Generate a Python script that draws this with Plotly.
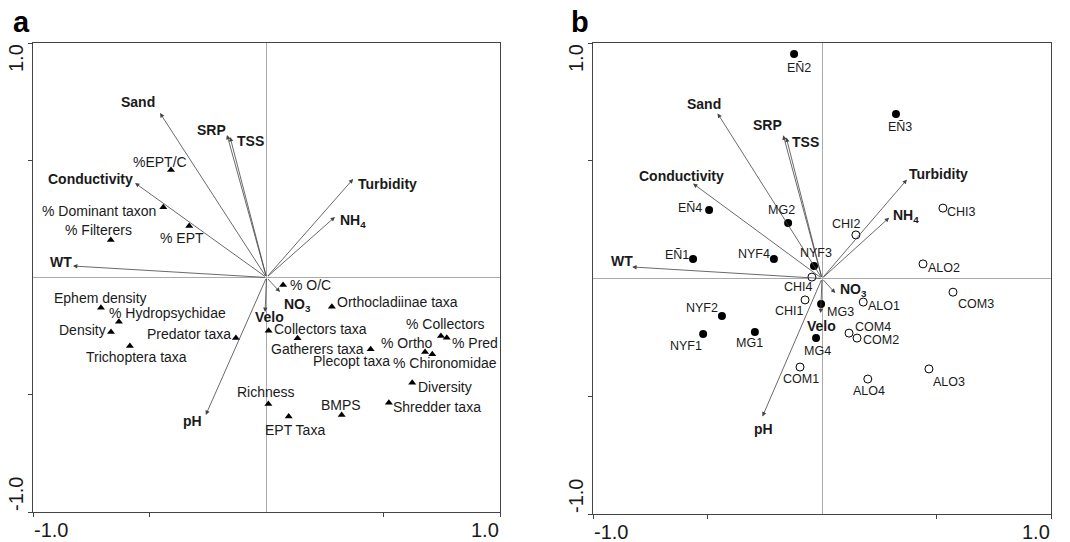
import plotly.graph_objects as go

# ---------------- data ----------------
env_names = ["Sand", "SRP", "TSS", "Conductivity", "WT", "Turbidity",
             "NH<sub>4</sub>", "NO<sub>3</sub>", "Velo", "pH"]
env_x = [-0.456, -0.169, -0.156, -0.563, -0.829, 0.371, 0.293, 0.058, -0.006, -0.260]
env_y = [0.701, 0.608, 0.599, 0.403, 0.049, 0.420, 0.258, -0.062, -0.147, -0.586]

sp_names = ["%EPT/C", "% Dominant taxon", "% EPT", "% Filterers", "% O/C",
            "Ephem density", "% Hydropsychidae", "Density", "Trichoptera taxa",
            "Predator taxa", "Orthocladiinae taxa", "Collectors taxa",
            "Gatherers taxa", "Plecopt taxa", "% Collectors", "% Pred", "% Ortho",
            "% Chironomidae", "Diversity", "Shredder taxa", "BMPS", "Richness",
            "EPT Taxa"]
sp_x = [-0.409, -0.442, -0.331, -0.667, 0.071, -0.709, -0.632, -0.666, -0.585,
        -0.131, 0.280, 0.009, 0.133, 0.446, 0.747, 0.772, 0.679, 0.710, 0.624,
        0.524, 0.322, 0.008, 0.095]
sp_y = [0.458, 0.300, 0.220, 0.160, -0.032, -0.129, -0.189, -0.232, -0.292,
        -0.258, -0.125, -0.227, -0.259, -0.306, -0.249, -0.257, -0.318, -0.327,
        -0.449, -0.534, -0.586, -0.539, -0.593]

site_f_names = ["EÑ2", "EÑ3", "EÑ4", "MG2", "EÑ1", "NYF4", "NYF3", "MG3",
                "NYF2", "NYF1", "MG1", "MG4"]
site_f_x = [-0.122, 0.323, -0.493, -0.148, -0.563, -0.210, -0.035, -0.004,
            -0.437, -0.519, -0.293, -0.026]
site_f_y = [0.953, 0.698, 0.291, 0.236, 0.083, 0.083, 0.053, -0.108,
            -0.159, -0.236, -0.227, -0.253]

site_o_names = ["CHI2", "CHI3", "ALO2", "CHI4", "CHI1", "ALO1", "COM3", "COM4",
                "COM2", "COM1", "ALO4", "ALO3"]
site_o_x = [0.148, 0.528, 0.441, -0.044, -0.074, 0.180, 0.572, 0.118,
            0.153, -0.096, 0.200, 0.467]
site_o_y = [0.185, 0.299, 0.062, 0.006, -0.091, -0.100, -0.058, -0.232,
            -0.253, -0.376, -0.427, -0.384]

tick_vals = [-1.0, 1.0]
tick_text = ["-1.0", "1.0"]

# ---------------- label placement (anchor, dx, dy in screen px) ----------------
env_lab_a = [("right", -5, -11), ("right", -1, -5), ("left", 7, 4),
             ("right", -2, -4), ("right", -1, -4), ("left", 5, 5),
             ("left", 5, 4), ("left", 4, 13), ("left", -10, 5), ("right", -4, 6)]
env_lab_b = [("right", 3, -9), ("right", -1, -10), ("left", 6, 5),
             ("center", -12, -8), ("right", 1, -6), ("left", 2, -6),
             ("left", 4, -2), ("left", 5, -3), ("center", 1, 13), ("center", 1, 12)]
sp_lab = [("center", -11, -8), ("right", -7, 4), ("center", -7, 12),
          ("center", -12, -10), ("left", 7, 0), ("center", 0, -10),
          ("left", -10, -9), ("right", -5, -2), ("center", 7, 11),
          ("right", -5, -4), ("left", 5, -5), ("left", 5, -2),
          ("left", -27, 11), ("right", 19, 12), ("center", 5, -12),
          ("left", 5, 5), ("right", 8, -9), ("center", 13, 9),
          ("left", 6, 4), ("left", 4, 4), ("center", -1, -10),
          ("center", -2, -12), ("center", 6, 13)]
site_f_lab = [("center", 5, 14), ("center", 4, 13), ("right", -7, -2),
              ("center", -7, -13), ("right", -4, -4), ("right", -4, -5),
              ("center", 2, -13), ("left", 6, 8), ("right", -4, -8),
              ("right", -1, 12), ("center", -5, 11), ("center", 1, 13)]
site_o_lab = [("center", -9, -11), ("left", 4, 4), ("left", 5, 4),
              ("right", 1, 10), ("right", -1, 11), ("left", 5, 4),
              ("left", 5, 12), ("left", 6, -6), ("left", 6, 2),
              ("center", 1, 12), ("center", 1, 12), ("left", 4, 13)]

FONT = "Liberation Sans, Arial, sans-serif"
TXT = "#1a1a1a"
W, H = 1070, 542
OFF = 8  # default page body margin


def px(xp):
    return (xp - OFF) / W


def py(yp):
    return 1 - (yp - OFF) / H


fig = go.Figure()

fig.add_trace(go.Scatter(
    x=sp_x, y=sp_y, mode="markers",
    marker=dict(symbol="triangle-up", size=7, color="black"),
    xaxis="x", yaxis="y", showlegend=False, hoverinfo="skip"))
fig.add_trace(go.Scatter(
    x=site_f_x, y=site_f_y, mode="markers",
    marker=dict(symbol="circle", size=8, color="black"),
    xaxis="x2", yaxis="y2", showlegend=False, hoverinfo="skip"))
fig.add_trace(go.Scatter(
    x=site_o_x, y=site_o_y, mode="markers",
    marker=dict(symbol="circle", size=8, color="white",
                line=dict(color="black", width=1)),
    xaxis="x2", yaxis="y2", showlegend=False, hoverinfo="skip"))

annotations = []


def add_labels(names, xs, ys, labs, xr, yr, size, bold=False):
    for n, x, y, (anc, dx, dy) in zip(names, xs, ys, labs):
        annotations.append(dict(
            x=x, y=y, xref=xr, yref=yr, showarrow=False,
            text="<b>%s</b>" % n if bold else n,
            xanchor=anc, yanchor="middle", xshift=dx, yshift=-dy,
            borderpad=0, borderwidth=0,
            font=dict(family=FONT, size=size, color=TXT)))


for xr, yr, labs in (("x", "y", env_lab_a), ("x2", "y2", env_lab_b)):
    for ex, ey in zip(env_x, env_y):
        annotations.append(dict(
            x=ex, y=ey, ax=0, ay=0, xref=xr, yref=yr, axref=xr, ayref=yr,
            showarrow=True, arrowhead=2, arrowsize=1.1, arrowwidth=0.8,
            arrowcolor="#444", text=""))
    add_labels(env_names, env_x, env_y, labs, xr, yr, 14, bold=True)
    for v, t in zip(tick_vals, tick_text):
        annotations.append(dict(
            x=v, y=0, xref=xr, yref=yr + " domain", text=t, showarrow=False,
            xanchor="left" if v < 0 else "right", yanchor="top", yshift=-6,
            borderpad=0, font=dict(family=FONT, size=20, color=TXT)))
        annotations.append(dict(
            x=0, y=v, xref=xr + " domain", yref=yr, text=t, showarrow=False,
            textangle=-90, xanchor="right", xshift=-5,
            yanchor="bottom" if v < 0 else "top", borderpad=0,
            font=dict(family=FONT, size=20, color=TXT)))

add_labels(sp_names, sp_x, sp_y, sp_lab, "x", "y", 14)
add_labels(site_f_names, site_f_x, site_f_y, site_f_lab, "x2", "y2", 12.5)
add_labels(site_o_names, site_o_x, site_o_y, site_o_lab, "x2", "y2", 12.5)

annotations.append(dict(x=px(11), y=py(4), xref="paper", yref="paper",
                        text="<b>a</b>", showarrow=False, xanchor="left",
                        yanchor="top", font=dict(family=FONT, size=29, color="black")))
annotations.append(dict(x=px(569), y=py(4), xref="paper", yref="paper",
                        text="<b>b</b>", showarrow=False, xanchor="left",
                        yanchor="top", font=dict(family=FONT, size=29, color="black")))

axis_common = dict(range=[-1, 1], showgrid=False, zeroline=True,
                   zerolinecolor="#aaaaaa", zerolinewidth=0.8,
                   showline=True, mirror=True, linecolor="#444", linewidth=1,
                   ticks="outside", tickvals=[-1, -0.5, 0.5, 1], ticklen=4,
                   tickcolor="#444", showticklabels=False, fixedrange=True)

fig.update_layout(
    width=W, height=H, margin=dict(l=0, r=0, t=0, b=0),
    paper_bgcolor="white", plot_bgcolor="white",
    xaxis=dict(domain=[px(33), px(500)], anchor="y", **axis_common),
    yaxis=dict(domain=[py(512), py(43)], anchor="x", **axis_common),
    xaxis2=dict(domain=[px(593), px(1051)], anchor="y2", **axis_common),
    yaxis2=dict(domain=[py(514), py(43)], anchor="x2", **axis_common),
    annotations=annotations,
)

fig.write_html("out.html")
